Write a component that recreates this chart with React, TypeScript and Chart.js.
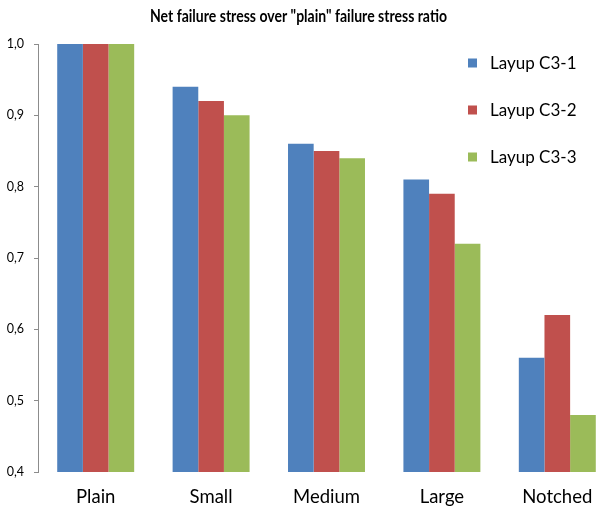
import React, { useEffect, useRef } from "react";
import { Chart, registerables } from "chart.js";

Chart.register(...registerables);

const chartTitle = 'Net failure stress over "plain" failure stress ratio';
const categories = ["Plain", "Small", "Medium", "Large", "Notched"];
const seriesNames = ["Layup C3-1", "Layup C3-2", "Layup C3-3"];
const layupC31 = [1.0, 0.94, 0.86, 0.81, 0.56];
const layupC32 = [1.0, 0.92, 0.85, 0.79, 0.62];
const layupC33 = [1.0, 0.9, 0.84, 0.72, 0.48];
const seriesColors = ["#4F81BD", "#C0504D", "#9BBB59"];
const yMin = 0.4;
const yMax = 1.0;
const yStep = 0.1;

const FONT = "Lato, 'Open Sans', sans-serif";

const titlePlugin = {
  id: "customTitle",
  afterDraw(chart: any) {
    const ctx = chart.ctx;
    ctx.save();
    ctx.font = `bold 16.5px ${FONT}`;
    ctx.fillStyle = "#000000";
    ctx.textAlign = "center";
    ctx.textBaseline = "alphabetic";
    const w = ctx.measureText(chartTitle).width;
    const sx = Math.min(1, 297 / w);
    ctx.translate(298.5, 22);
    ctx.scale(sx, 1);
    ctx.fillText(chartTitle, 0, 0);
    ctx.restore();
  },
};

const legendPlugin = {
  id: "customLegend",
  afterDraw(chart: any) {
    const ctx = chart.ctx;
    ctx.save();
    ctx.font = `17px ${FONT}`;
    ctx.textAlign = "left";
    ctx.textBaseline = "middle";
    chart.data.datasets.forEach((ds: any, i: number) => {
      const cy = 63 + i * 47;
      ctx.fillStyle = ds.backgroundColor;
      ctx.fillRect(468, cy - 4.5, 9, 9);
      ctx.fillStyle = "#000000";
      ctx.fillText(ds.label, 490, cy + 1);
    });
    ctx.restore();
  },
};

export default function App() {
  const canvasRef = useRef<HTMLCanvasElement | null>(null);

  useEffect(() => {
    if (!canvasRef.current) return;
    const datasets = [layupC31, layupC32, layupC33].map((values, i) => ({
      label: seriesNames[i],
      data: values,
      backgroundColor: seriesColors[i],
      borderWidth: 0,
      categoryPercentage: 0.667,
      barPercentage: 1.0,
    }));
    const chart = new Chart(canvasRef.current, {
      type: "bar",
      data: { labels: categories, datasets },
      options: {
        animation: false,
        responsive: false,
        devicePixelRatio: 1,
        layout: { padding: { top: 44, right: 0, bottom: 0, left: 0 } },
        plugins: {
          legend: { display: false },
          title: { display: false },
          tooltip: { enabled: false },
        },
        scales: {
          x: {
            grid: { display: false, drawTicks: false },
            border: { display: false },
            ticks: {
              color: "#000000",
              font: { family: FONT, size: 18.5 },
              padding: 14,
              maxRotation: 0,
            },
            afterFit: (scale: any) => {
              scale.height = 35;
            },
          },
          y: {
            min: yMin,
            max: yMax,
            grid: {
              drawOnChartArea: false,
              drawTicks: true,
              tickLength: 4,
              color: "#8C8C8C",
            },
            border: { display: true, color: "#8C8C8C" },
            ticks: {
              stepSize: yStep,
              color: "#000000",
              font: { family: FONT, size: 12.5 },
              padding: 10,
              callback: (v: any) => Number(v).toFixed(1).replace(".", ","),
            },
            afterFit: (scale: any) => {
              scale.width = 38;
            },
          },
        },
      },
      plugins: [titlePlugin, legendPlugin],
    });
    return () => chart.destroy();
  }, []);

  return (
    <div
      style={{
        position: "absolute",
        left: 0,
        top: 0,
        width: 597,
        height: 507,
        overflow: "hidden",
        background: "#ffffff",
      }}
    >
      <canvas ref={canvasRef} width={615} height={507} />
    </div>
  );
}
